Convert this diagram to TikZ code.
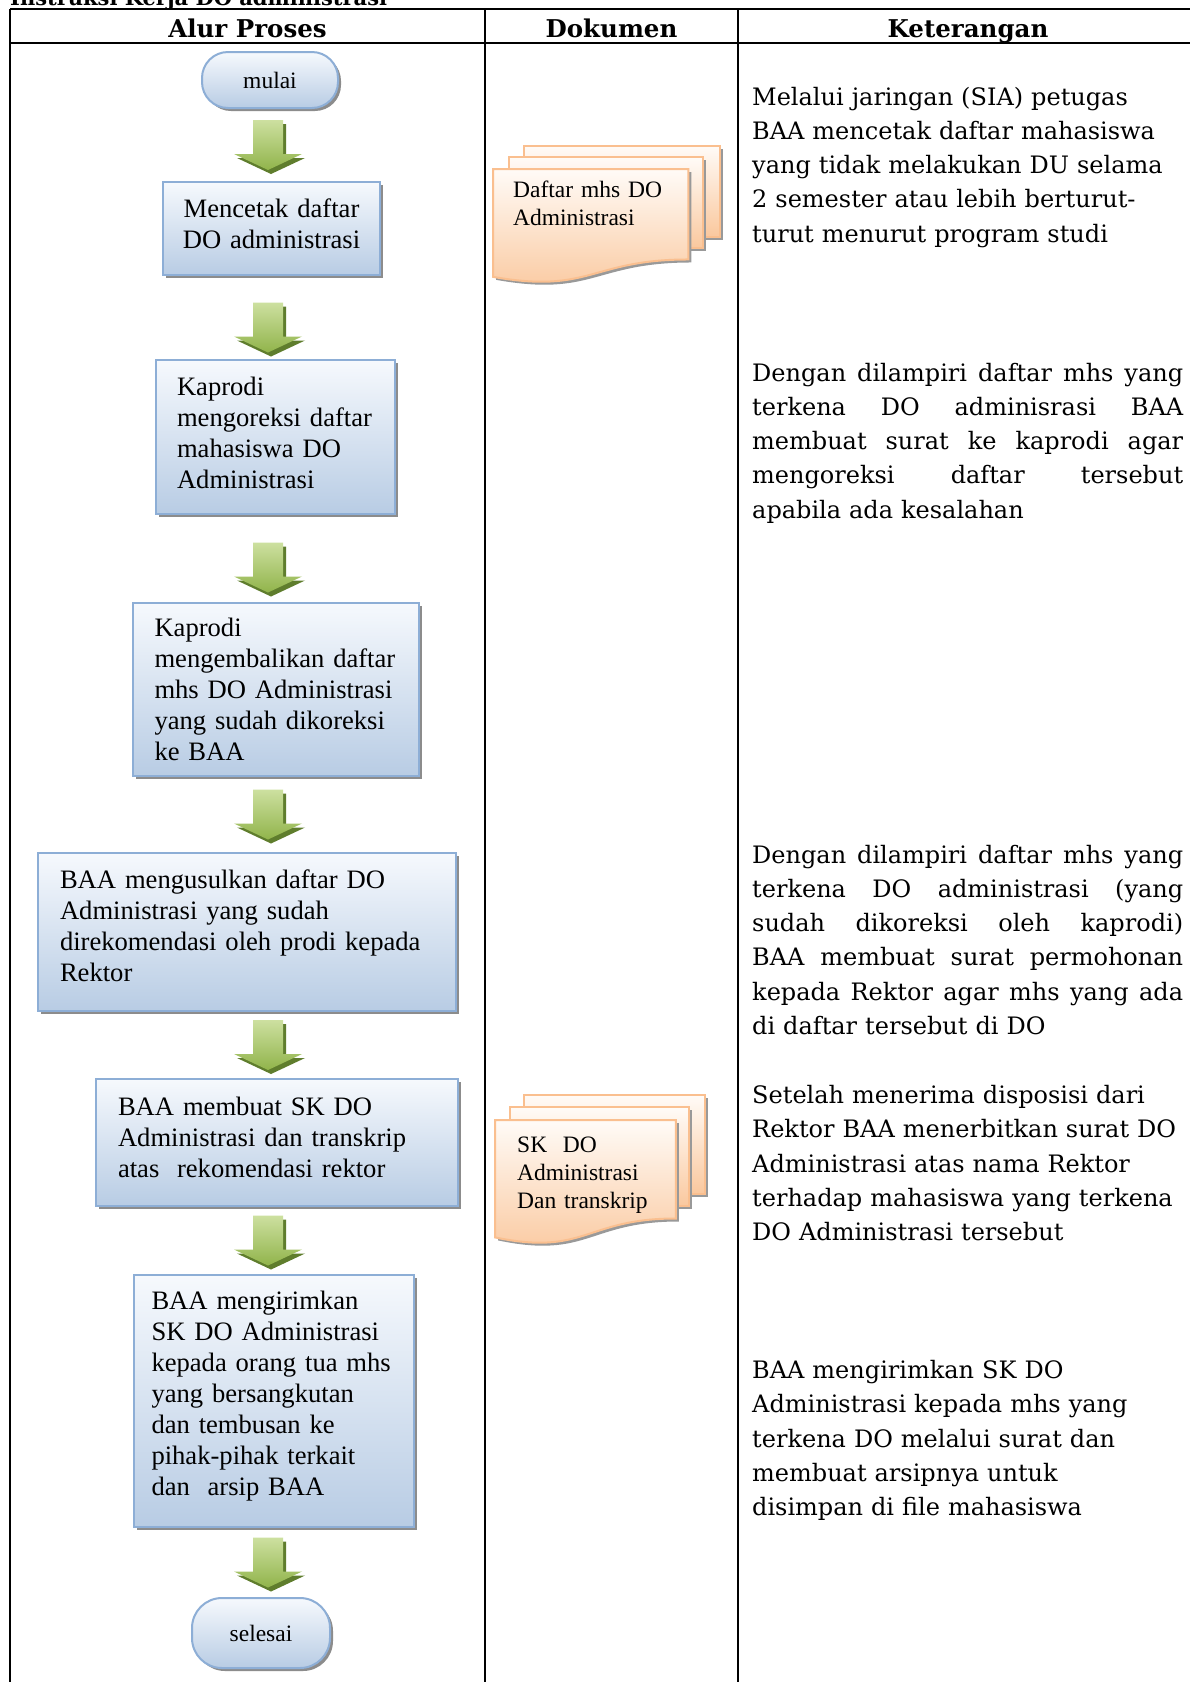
\documentclass[tikz,border=0pt]{standalone}
\usepackage{fontspec}
\setmainfont{Liberation Serif}
\newfontfamily\ketfont{DejaVu Serif}
\usetikzlibrary{calc,shadows}

\definecolor{flowline}{RGB}{141,174,214}
\definecolor{flowtop}{RGB}{246,249,253}
\definecolor{flowbot}{RGB}{184,204,228}
\definecolor{docline}{RGB}{250,191,143}
\definecolor{doctop}{RGB}{255,251,247}
\definecolor{docbot}{RGB}{250,200,158}
\definecolor{arrtop}{RGB}{205,224,160}
\definecolor{arrbot}{RGB}{145,180,75}
\definecolor{arrdark}{RGB}{95,125,45}

% justified line of the description column
\newcommand\spread[1]{\leavevmode\hbox to 431pt{\spaceskip=\fontdimen2\font plus 1fil\relax #1}}

\tikzset{
  docsheet/.style={draw=docline,line width=2pt,top color=doctop,bottom color=docbot},
  multidoc/.pic={
    % back and middle sheet, then the front one with the wavy edge
    \foreach \l/\t/\r/\b in {0.1376/0/1/0.6663,0.0709/0.0840/0.9259/0.7524} {
      \fill[black!40,xshift=3pt,yshift=-3pt] (\l,\t) rectangle (\r,\b);
      \shadedraw[docsheet] (\l,\t) rectangle (\r,\b);
    }
    \fill[black!40,xshift=3pt,yshift=-3pt] (0,0.1701) -- (0.8609,0.1701) -- (0.8609,0.8344)
      .. controls (0.4305,0.8344) and (0.4305,1.0899) .. (0,0.9621) -- cycle;
    \shadedraw[docsheet] (0,0.1701) -- (0.8609,0.1701) -- (0.8609,0.8344)
      .. controls (0.4305,0.8344) and (0.4305,1.0899) .. (0,0.9621) -- cycle;
  }
}

\begin{document}
\begin{tikzpicture}[x=1pt,y=-1pt,
  tbl/.style={line width=2pt,black},
  hdr/.style={anchor=base,font={\ketfont\bfseries\fontsize{24.5}{28}\selectfont}},
  proc/.style={rectangle,draw=flowline,line width=2pt,top color=flowtop,bottom color=flowbot,
    drop shadow={shadow xshift=3pt,shadow yshift=-3pt,fill=black!45,opacity=1},
    inner xsep=4pt,inner ysep=0pt,align=left,font={\fontsize{26.6}{31}\selectfont}},
  term/.style={proc,rounded corners=26pt,align=center,font={\fontsize{23.5}{28}\selectfont}},
  lift/.style={execute at end node={\rule[-#1]{0pt}{1pt}}},
  doctxt/.style={anchor=base west,inner sep=0pt,text width=160pt,align=left,
    font={\fontsize{23.5}{28}\selectfont}},
  ket/.style={anchor=base west,inner sep=0pt,text width=445pt,align=left,
    font={\ketfont\fontsize{24}{34.3}\selectfont}},
  arrowbody/.style={top color=arrtop,bottom color=arrbot}]

 \path[use as bounding box,fill=white] (0,0) rectangle (1190,1682);

 % ---- table frame ----
 \node[anchor=base west,inner sep=0pt,font={\ketfont\bfseries\fontsize{21}{24}\selectfont}] (judul) at (10,5)
   {Instruksi Kerja DO administrasi};
 \draw[tbl] (10,8.5) -- (1190,8.5);
 \draw[tbl] (10,43) -- (1190,43);
 \foreach \x in {10,485,738} \draw[tbl] (\x,8.5) -- (\x,1690);
 \node[hdr] (hAlur) at (247.5,37) {Alur Proses};
 \node[hdr] (hDok) at (611.5,37) {Dokumen};
 \node[hdr] (hKet) at (968,37) {Keterangan};

 % ---- process column ----
 \node[term,minimum width=136pt,minimum height=56pt] (mulai) at (270,80) {mulai};
 \node[proc,lift=10pt,align=center,text width=180pt,minimum width=217pt,minimum height=93pt] (cetak) at (271.5,228.5)
   {Mencetak daftar\\DO administrasi};
 \node[proc,lift=7.5pt,text width=197pt,minimum width=239pt,minimum height=154pt] (koreksi) at (275.5,437)
   {Kaprodi\\mengoreksi daftar\\mahasiswa DO\\Administrasi};
 \node[proc,text width=243pt,minimum width=286pt,minimum height=173pt] (kembali) at (276,689.5)
   {Kaprodi\\mengembalikan daftar\\mhs DO Administrasi\\yang sudah dikoreksi\\ke BAA};
 \node[proc,lift=12pt,text width=374pt,minimum width=418pt,minimum height=158pt] (usul) at (247,932)
   {BAA mengusulkan daftar DO\\Administrasi yang sudah\\direkomendasi oleh prodi kepada\\Rektor};
 \node[proc,lift=11pt,text width=318pt,minimum width=362pt,minimum height=127pt] (sk) at (277,1142.5)
   {BAA membuat SK DO\\Administrasi dan transkrip\\atas\ \ rekomendasi rektor};
 \node[proc,lift=16pt,text width=245pt,minimum width=280pt,minimum height=252pt] (kirim) at (274,1401)
   {BAA mengirimkan\\SK DO Administrasi\\kepada orang tua mhs\\yang bersangkutan\\dan tembusan ke\\pihak-pihak terkait\\dan\ \ arsip BAA};
 \node[term,rounded corners=30pt,minimum width=138pt,minimum height=70pt] (selesai) at (261,1633) {selesai};

 % ---- block arrows between the steps ----
 \foreach \a/\b/\d in {mulai/cetak/0,cetak/koreksi/10,koreksi/kembali/9,kembali/usul/0,
                       usul/sk/0,sk/kirim/0,kirim/selesai/0} {
   \fill[arrdark] let \p1=($(\a.south)!0.5!(\b.north)$), \p2=(271,\d+4) in
     (\x2-15pt,\y1+\y2+25pt) -- (\x2+15pt,\y1+\y2+25pt) -- (\x2+15pt,\y1+\y2-9pt) -- (\x2+34pt,\y1+\y2-9pt)
     -- (\x2,\y1+\y2-25pt) -- (\x2-34pt,\y1+\y2-9pt) -- (\x2-15pt,\y1+\y2-9pt) -- cycle;
   \shade[arrowbody] let \p1=($(\a.south)!0.5!(\b.north)$), \p2=(268,\d) in
     (\x2-15pt,\y1+\y2+25pt) -- (\x2+15pt,\y1+\y2+25pt) -- (\x2+15pt,\y1+\y2-9pt) -- (\x2+34pt,\y1+\y2-9pt)
     -- (\x2,\y1+\y2-25pt) -- (\x2-34pt,\y1+\y2-9pt) -- (\x2-15pt,\y1+\y2-9pt) -- cycle;
 }

 % ---- documents ----
 \begin{scope}[shift={(493,146)},x=227pt,y=-136pt]
   \pic {multidoc};
 \end{scope}
 \node[doctxt] (daftar) at (513,197) {Daftar mhs DO\\Administrasi};
 \begin{scope}[shift={(495,1095)},x=210pt,y=-148pt]
   \pic {multidoc};
 \end{scope}
 \node[doctxt] (skdo) at (517,1152) {SK\ \ DO\\Administrasi\\Dan transkrip};

 % ---- description column ----
 \node[ket] (ket1) at (752,105) {Melalui jaringan (SIA) petugas\\BAA mencetak daftar mahasiswa\\yang tidak melakukan DU selama\\2 semester atau lebih berturut-\\turut menurut program studi};
 \node[ket] (ket2) at (752,381) {\spread{Dengan dilampiri daftar mhs yang}\\\spread{terkena DO adminisrasi BAA}\\\spread{membuat surat ke kaprodi agar}\\\spread{mengoreksi daftar tersebut}\\apabila ada kesalahan};
 \node[ket] (ket3) at (752,863) {\spread{Dengan dilampiri daftar mhs yang}\\\spread{terkena DO administrasi (yang}\\\spread{sudah dikoreksi oleh kaprodi)}\\\spread{BAA membuat surat permohonan}\\\spread{kepada Rektor agar mhs yang ada}\\di daftar tersebut di DO};
 \node[ket] (ket4) at (752,1103.5) {Setelah menerima disposisi dari\\Rektor BAA menerbitkan surat DO\\Administrasi atas nama Rektor\\terhadap mahasiswa yang terkena\\DO Administrasi tersebut};
 \node[ket] (ket5) at (752,1378.5) {BAA mengirimkan SK DO\\Administrasi kepada mhs yang\\terkena DO melalui surat dan\\membuat arsipnya untuk\\disimpan di file mahasiswa};
\end{tikzpicture}
\end{document}
